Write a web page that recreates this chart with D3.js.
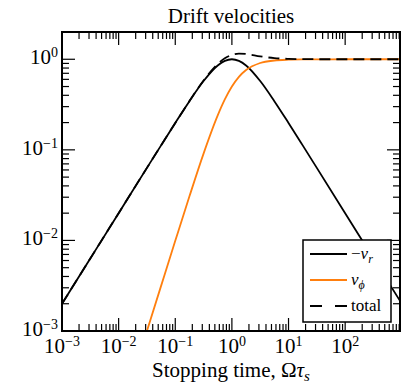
<!DOCTYPE html>
<html>
<head>
<meta charset="utf-8">
<script src="https://cdn.jsdelivr.net/npm/d3@7"></script>
<style>
  body { margin: 0; background: #fff; }
  svg text { font-family: "Liberation Serif", "Times New Roman", serif; fill: #000; }
</style>
</head>
<body>
<div id="chart"></div>
<script>
// stopping time samples (Omega tau_s) and the three drift velocity curves
var tau   = [0.001, 0.00316, 0.01, 0.0316, 0.0562, 0.1, 0.178, 0.316, 0.562, 0.75, 1, 1.33, 1.78, 3.16, 5.62, 10, 17.8, 31.6, 100, 316, 930];
var vr    = [0.002, 0.00632, 0.02, 0.0632, 0.112, 0.198, 0.345, 0.575, 0.854, 0.96, 1, 0.96, 0.854, 0.575, 0.345, 0.198, 0.112, 0.0632, 0.02, 0.00632, 0.00215];
var vphi  = [0.000001, 0.00001, 0.0001, 0.001, 0.00315, 0.0099, 0.0307, 0.0909, 0.240, 0.360, 0.5, 0.640, 0.760, 0.909, 0.969, 0.990, 0.997, 0.999, 1, 1, 1];
var total = [0.002, 0.00632, 0.02, 0.0632, 0.112, 0.198, 0.346, 0.582, 0.888, 1.025, 1.118, 1.154, 1.143, 1.076, 1.029, 1.010, 1.003, 1.001, 1, 1, 1];

var xTickExp = [-3, -2, -1, 0, 1, 2];
var yTickExp = [-3, -2, -1, 0];
var seriesNames = ["vr", "vphi", "total"];

var W = 416, H = 385;
var pL = 62, pR = 400, pT = 32, pB = 331;

var svg = d3.select("#chart").append("svg")
  .attr("width", W)
  .attr("height", H);

var x = d3.scaleLog().domain([1e-3, 930]).range([pL, pR]);
var y = d3.scaleLog().domain([1e-3, 2]).range([pB, pT]);

// clip for the curves
svg.append("clipPath").attr("id", "plot-clip")
  .append("rect")
  .attr("x", pL).attr("y", pT)
  .attr("width", pR - pL).attr("height", pB - pT);

// minor + major ticks, all pointing inward
function ticksFor(scale) {
  var d = scale.domain();
  var out = [];
  for (var e = Math.floor(Math.log10(d[0])); e <= Math.ceil(Math.log10(d[1])); e++) {
    for (var m = 1; m < 10; m++) {
      var v = m * Math.pow(10, e);
      if (v >= d[0] * 0.999 && v <= d[1] * 1.001) out.push({v: v, major: m == 1});
    }
  }
  return out;
}

var tickG = svg.append("g").attr("class", "ticks")
  .attr("stroke", "#000").attr("stroke-width", 1.2);

ticksFor(x).forEach(function(t) {
  var px = x(t.v), len = t.major ? 13 : 7;
  tickG.append("line").attr("x1", px).attr("x2", px).attr("y1", pB).attr("y2", pB - len);
  tickG.append("line").attr("x1", px).attr("x2", px).attr("y1", pT).attr("y2", pT + len);
});
ticksFor(y).forEach(function(t) {
  var py = y(t.v), len = t.major ? 13 : 7;
  tickG.append("line").attr("y1", py).attr("y2", py).attr("x1", pL).attr("x2", pL + len);
  tickG.append("line").attr("y1", py).attr("y2", py).attr("x1", pR).attr("x2", pR - len);
});

// curves
var line = d3.line()
  .x(function(d) { return x(d[0]); })
  .y(function(d) { return y(d[1]); })
  .curve(d3.curveMonotoneX);

var curves = {
  vr:    {vals: vr,    color: "#000000", dash: null},
  vphi:  {vals: vphi,  color: "#ff7f0e", dash: null},
  total: {vals: total, color: "#000000", dash: "11,6"}
};

var plot = svg.append("g").attr("clip-path", "url(#plot-clip)");
seriesNames.forEach(function(k) {
  var c = curves[k];
  plot.append("path")
    .datum(tau.map(function(t, i) { return [t, c.vals[i]]; }))
    .attr("fill", "none")
    .attr("stroke", c.color)
    .attr("stroke-width", 1.8)
    .attr("stroke-dasharray", c.dash)
    .attr("d", line);
});

// frame
svg.append("rect")
  .attr("x", pL).attr("y", pT)
  .attr("width", pR - pL).attr("height", pB - pT)
  .attr("fill", "none").attr("stroke", "#000").attr("stroke-width", 2);

// tick labels as 10^n
function powLabel(sel, e) {
  sel.append("tspan").text("10");
  sel.append("tspan").attr("dy", -7).attr("font-size", 14)
    .text(e < 0 ? "\u2212" + (-e) : "" + e);
}
xTickExp.forEach(function(e) {
  svg.append("text")
    .attr("x", x(Math.pow(10, e)))
    .attr("y", 353)
    .attr("text-anchor", "middle")
    .attr("font-size", 21)
    .call(powLabel, e);
});
yTickExp.forEach(function(e) {
  svg.append("text")
    .attr("x", 58)
    .attr("y", y(Math.pow(10, e)) + 5)
    .attr("text-anchor", "end")
    .attr("font-size", 21)
    .call(powLabel, e);
});

// title + axis label
svg.append("text")
  .attr("x", 231).attr("y", 23)
  .attr("text-anchor", "middle").attr("font-size", 21)
  .text("Drift velocities");

var xl = svg.append("text")
  .attr("x", 231).attr("y", 377)
  .attr("text-anchor", "middle").attr("font-size", 21);
xl.append("tspan").text("Stopping time, \u03a9");
xl.append("tspan").attr("font-style", "italic").text("\u03c4");
xl.append("tspan").attr("font-style", "italic").attr("font-size", 15).attr("dy", 4).text("s");

// legend
var lg = svg.append("g").attr("class", "legend");
lg.append("rect")
  .attr("x", 303).attr("y", 240).attr("width", 88).attr("height", 82)
  .attr("fill", "#fff").attr("stroke", "#000").attr("stroke-width", 1.5);

var legendRows = [
  {key: "vr", y: 254},
  {key: "vphi", y: 280},
  {key: "total", y: 306}
];
legendRows.forEach(function(r) {
  var c = curves[r.key];
  lg.append("line")
    .attr("x1", 310).attr("x2", 347).attr("y1", r.y).attr("y2", r.y)
    .attr("stroke", c.color).attr("stroke-width", 1.8)
    .attr("stroke-dasharray", c.dash ? "12,13" : null);
  var t = lg.append("text").attr("x", 351).attr("y", r.y + 5).attr("font-size", 17);
  if (r.key == "vr") {
    t.append("tspan").text("\u2212");
    t.append("tspan").attr("font-style", "italic").text("v");
    t.append("tspan").attr("font-style", "italic").attr("font-size", 12).attr("dy", 4).text("r");
  } else if (r.key == "vphi") {
    t.append("tspan").attr("font-style", "italic").text("v");
    t.append("tspan").attr("font-style", "italic").attr("font-size", 12).attr("dy", 4).text("\u03d5");
  } else {
    t.text("total");
  }
});
</script>
</body>
</html>
